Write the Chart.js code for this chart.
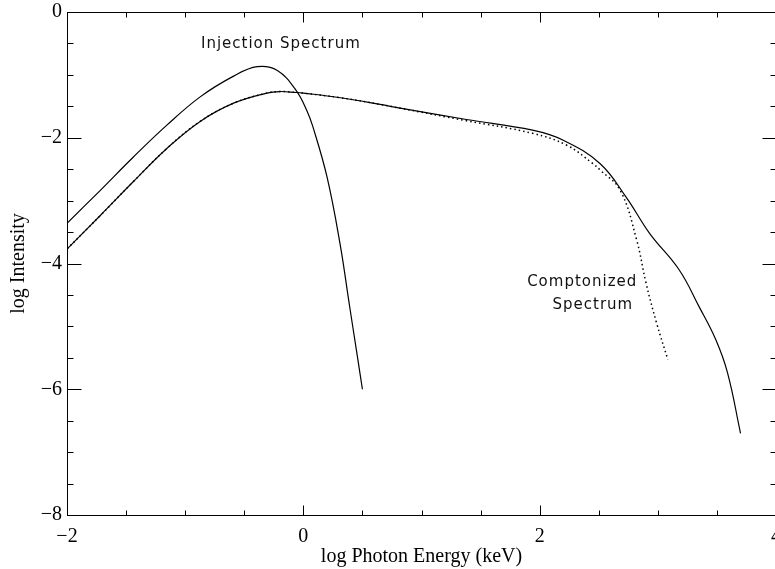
<!DOCTYPE html>
<html>
<head>
<meta charset="utf-8">
<script src="https://cdn.jsdelivr.net/npm/chart.js@4.4.1/dist/chart.umd.min.js"></script>
<style>
  html, body { margin: 0; padding: 0; background: #fff; overflow: hidden; }
  #wrap { width: 800px; height: 569px; }
</style>
</head>
<body>
<div id="wrap"><canvas id="spec" width="800" height="569"></canvas></div>
<script>
// injection (seed) spectrum
const injX = [-2, -1.72, -1.44, -1.155, -0.873, -0.59, -0.39, -0.22, -0.06, 0.03, 0.08, 0.2, 0.31, 0.39, 0.46, 0.5];
const injY = [-3.36, -2.84, -2.31, -1.80, -1.35, -1.02, -0.87, -0.93, -1.25, -1.57, -1.82, -2.62, -3.68, -4.66, -5.51, -6.0];

// comptonized spectrum, full calculation (solid)
const compX = [-2, -1.72, -1.44, -1.155, -0.873, -0.59, -0.31, -0.2, -0.06, 0, 0.3, 0.65, 0.82, 1.38, 1.94, 2.2, 2.51, 2.73, 2.93, 3.18, 3.35, 3.49, 3.59, 3.7];
const compY = [-3.77, -3.24, -2.70, -2.17, -1.74, -1.45, -1.29, -1.265, -1.28, -1.29, -1.36, -1.47, -1.53, -1.71, -1.88, -2.04, -2.41, -2.94, -3.52, -4.10, -4.69, -5.21, -5.74, -6.70];

// comptonized spectrum, approximation (dotted)
const dotX = [-2, -1.72, -1.44, -1.155, -0.873, -0.59, -0.31, -0.2, -0.06, 0, 0.3, 0.65, 0.82, 1.38, 1.94, 2.23, 2.45, 2.51, 2.68, 2.82, 2.9, 2.99, 3.085];
const dotY = [-3.77, -3.24, -2.70, -2.17, -1.74, -1.45, -1.29, -1.265, -1.28, -1.29, -1.36, -1.47, -1.53, -1.73, -1.93, -2.12, -2.41, -2.51, -2.83, -3.62, -4.31, -4.95, -5.53];

// annotations (data coordinates of text centre)
const noteText = ['Injection Spectrum', 'Comptonized', 'Spectrum'];
const noteX = [-0.19, 2.36, 2.45];
const noteY = [-0.51, -4.29, -4.66];

const xTitle = 'log Photon Energy (keV)';
const yTitle = 'log Intensity';

const pts = (xs, ys) => xs.map((x, i) => ({ x: x, y: ys[i] }));

function tickLabel(v) {
    if (v % 2 !== 0) return '';
    if (v === 0) return '0';
    return (v < 0 ? '\u2212' : '') + Math.abs(v);
}

Chart.defaults.font.family = "'Liberation Serif', 'Times New Roman', serif";
Chart.defaults.color = '#000';

// box with inward ticks on all four sides, plus text labels
const framePlugin = {
    id: 'frame',
    afterDraw(chart) {
        const { ctx, chartArea: a, scales: { x, y } } = chart;
        const L = Math.round(a.left) + 0.5, R = Math.round(a.right) + 0.5;
        const T = Math.round(a.top) + 0.5, B = Math.round(a.bottom) + 0.5;
        ctx.save();
        ctx.strokeStyle = '#000';
        ctx.lineWidth = 1;
        ctx.strokeRect(L, T, R - L, B - T);
        ctx.beginPath();
        x.ticks.forEach(t => {
            const px = Math.round(x.getPixelForValue(t.value)) + 0.5;
            const len = t.value % 2 === 0 ? 10 : 5;
            ctx.moveTo(px, B); ctx.lineTo(px, B - len);
            ctx.moveTo(px, T); ctx.lineTo(px, T + len);
        });
        y.ticks.forEach(t => {
            const py = Math.round(y.getPixelForValue(t.value)) + 0.5;
            const len = t.value % 2 === 0 ? 14 : 6;
            ctx.moveTo(L, py); ctx.lineTo(L + len, py);
            ctx.moveTo(R, py); ctx.lineTo(R - len, py);
        });
        ctx.stroke();

        ctx.fillStyle = '#111';
        ctx.font = "15px 'DejaVu Sans', sans-serif";
        ctx.letterSpacing = '1px';
        ctx.textAlign = 'center';
        ctx.textBaseline = 'middle';
        noteText.forEach((s, i) => {
            ctx.fillText(s, x.getPixelForValue(noteX[i]), y.getPixelForValue(noteY[i]));
        });
        ctx.restore();
    }
};

new Chart(document.getElementById('spec'), {
    type: 'line',
    data: {
        datasets: [
            { label: 'Injection', data: pts(injX, injY) },
            { label: 'Comptonized', data: pts(compX, compY) },
            { label: 'Approximation', data: pts(dotX, dotY), borderDash: [1.5, 3], borderWidth: 1.5 }
        ]
    },
    options: {
        responsive: false,
        devicePixelRatio: 1,
        animation: false,
        layout: { padding: { top: 12, right: 24, left: 0, bottom: 0 } },
        elements: {
            line: { borderColor: '#000', borderWidth: 1.2, fill: false, tension: 0.4 },
            point: { radius: 0 }
        },
        plugins: { legend: { display: false }, tooltip: { enabled: false } },
        scales: {
            x: {
                type: 'linear',
                min: -2,
                max: 4,
                grid: { display: false, drawTicks: false },
                border: { display: false },
                ticks: {
                    stepSize: 0.5,
                    autoSkip: false,
                    maxRotation: 0,
                    padding: 10,
                    font: { size: 20 },
                    callback: tickLabel
                },
                title: { display: true, text: xTitle, font: { size: 20 }, padding: { top: 0, bottom: 0 } },
                afterFit: s => { s.height = 54; s.paddingLeft = 0; s.paddingRight = 0; }
            },
            y: {
                min: -8,
                max: 0,
                grid: { display: false, drawTicks: false },
                border: { display: false },
                ticks: {
                    stepSize: 0.5,
                    autoSkip: false,
                    padding: 5,
                    font: { size: 20 },
                    callback: tickLabel
                },
                title: { display: true, text: yTitle, font: { size: 20 }, padding: { top: 7, bottom: 0 } },
                afterFit: s => { s.width = 67; s.paddingTop = 0; s.paddingBottom = 0; }
            }
        }
    },
    plugins: [framePlugin]
});
</script>
</body>
</html>
